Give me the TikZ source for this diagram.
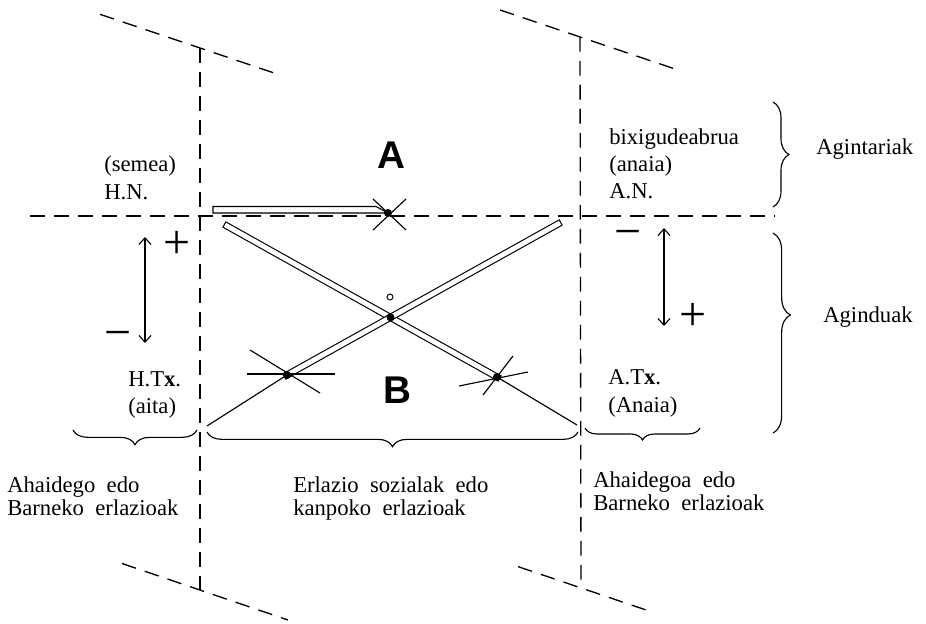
\documentclass[tikz,border=0pt]{standalone}
\usepackage{fontspec}
\setmainfont{Liberation Serif}
\newfontfamily\sansbold{Liberation Sans}
\usetikzlibrary{decorations.pathreplacing,arrows.meta}
\begin{document}
\begin{tikzpicture}[x=0.75pt,y=-0.75pt,
  dashln/.style={line width=1pt, dash pattern=on 11pt off 7pt},
  bar/.style={double=white, double distance=3.6pt, line width=0.85pt, line cap=rect},
  thinln/.style={line width=0.85pt},
  dotn/.style={circle, fill=black, inner sep=0pt, minimum size=6pt},
  lbl/.style={font=\fontsize{17}{20}\selectfont, inner sep=0pt, anchor=base west},
  big/.style={font=\sansbold\bfseries\fontsize{29}{30}\selectfont, inner sep=0pt},
  sgn/.style={font=\fontsize{36}{36}\selectfont, inner sep=0pt},
  brc/.style={decorate, decoration={brace, amplitude=#1}, line width=0.85pt},
  brc/.default=11pt,
  dblarr/.style={{Straight Barb[length=5pt,width=9pt]}-{Straight Barb[length=5pt,width=9pt]}, line width=0.85pt}
]
\useasboundingbox (0,0) rectangle (926,624);

% frame of dashed lines
\coordinate (LT) at (200,48);
\coordinate (LB) at (200,590);
\coordinate (RT) at (580,37);
\coordinate (RB) at (581,588);
\coordinate (LTa) at (100,14.3);
\coordinate (LTb) at (275,73.3);
\coordinate (RTa) at (500,10);
\coordinate (RTb) at (678,70);
\coordinate (LBa) at (122,563.5);
\coordinate (LBb) at (288,620);
\coordinate (RBa) at (518,566.6);
\coordinate (RBb) at (652,612);
\coordinate (Ha) at (30,216);
\coordinate (Hb) at (775,216);

\draw[dashln] (LTa) -- (LTb);
\draw[dashln] (RTa) -- (RTb);
\draw[dashln] (LBa) -- (LBb);
\draw[dashln] (RBa) -- (RBb);
\draw[dashln] (LT) -- (LB);
\draw[dashln] (RT) -- (RB);
\draw[dashln] (Ha) -- (Hb);

% key points
\coordinate (Pc) at (388,213);
\coordinate (Cc) at (390.5,317.4);
\coordinate (Lc) at (287,375);
\coordinate (Rc) at (497,377);
\coordinate (B1s) at (227,226);
\coordinate (B2s) at (558,224);
\coordinate (Lend) at (207,426);
\coordinate (Rend) at (577,425);

% horizontal tapering double bar
\draw[line width=0.85pt, line join=miter] (213,206.5) -- (376,206.5) -- (Pc) -- (213,213) -- cycle;

% crossing bars
\draw[bar] (B1s) -- (Rc);
\draw[bar] (B2s) -- (Lc);
\draw[thinln] (Rc) -- (Rend);
\draw[thinln] (Lc) -- (Lend);

% X marks
\coordinate (Xa1) at (373,199); \coordinate (Xa2) at (406,230);
\coordinate (Xb1) at (373,230); \coordinate (Xb2) at (406,199);
\draw[thinln] (Xa1) -- (Xa2);
\draw[thinln] (Xb1) -- (Xb2);
\coordinate (La1) at (250,350); \coordinate (La2) at (320,393);
\coordinate (Lb1) at (247,374); \coordinate (Lb2) at (335,374);
\draw[thinln] (La1) -- (La2);
\draw[thinln] (Lb1) -- (Lb2);
\coordinate (Ra1) at (459,386); \coordinate (Ra2) at (528,372);
\coordinate (Rb1) at (483,395); \coordinate (Rb2) at (513,356);
\draw[thinln] (Ra1) -- (Ra2);
\draw[thinln] (Rb1) -- (Rb2);

% dots on top
\node[dotn] (P) at (Pc) {};
\node[dotn] (C) at (Cc) {};
\node[dotn] (L) at (Lc) {};
\node[dotn] (R) at (Rc) {};

% small circle
\node[circle, draw, line width=0.7pt, inner sep=0pt, minimum size=4.5pt] (o) at (390,297) {};

% big letters
\node[big] (A) at (391,155) {A};
\node[big] (Bl) at (397,390) {B};

% vertical arrows and signs
\coordinate (la1) at (145,237); \coordinate (la2) at (145,343);
\draw[dblarr] (la1) -- (la2);
\coordinate (ra1) at (664,228); \coordinate (ra2) at (664,326);
\draw[dblarr] (ra1) -- (ra2);
\node[sgn] (plusL) at (177,245) {+};
\node[sgn] (minusL) at (118,340) {−};
\node[sgn] (minusR) at (628,239) {−};
\node[sgn] (plusR) at (693,317) {+};

% labels
\node[lbl] (semea) at (104,172) {(semea)};
\node[lbl] (HN) at (104,200) {H.N.};
\node[lbl] (bix) at (609,145) {bixigudeabrua};
\node[lbl] (anaia) at (609,172) {(anaia)};
\node[lbl] (AN) at (609,199) {A.N.};
\node[lbl] (HTx) at (128,387) {H.T\textbf{x}.};
\node[lbl] (aita) at (128,413) {(aita)};
\node[lbl] (ATx) at (608,385) {A.T\textbf{x}.};
\node[lbl] (Anaia) at (608,412) {(Anaia)};
\node[lbl] (Agint) at (816,155) {Agintariak};
\node[lbl] (Agind) at (823,323) {Aginduak};

\node[lbl] (ah1) at (7,492) {Ahaidego\ \ edo};
\node[lbl] (ah2) at (7,515) {Barneko\ \ erlazioak};
\node[lbl] (er1) at (293,492) {Erlazio\ \ sozialak\ \ edo};
\node[lbl] (er2) at (293,515) {kanpoko\ \ erlazioak};
\node[lbl] (ahr1) at (593,488) {Ahaidegoa\ \ edo};
\node[lbl] (ahr2) at (593,510) {Barneko\ \ erlazioak};

% braces
\coordinate (bt1) at (773,102); \coordinate (bt2) at (773,207);
\draw[brc=12pt] (bt1) -- (bt2);
\coordinate (bm1) at (773,233); \coordinate (bm2) at (773,433);
\draw[decorate, decoration={brace, amplitude=13pt, aspect=0.41}, line width=0.85pt] (bm1) -- (bm2);
\coordinate (bl1) at (197,430); \coordinate (bl2) at (73,430);
\draw[brc=11pt] (bl1) -- (bl2);
\coordinate (bc1) at (578,432); \coordinate (bc2) at (207,432);
\draw[brc=11pt] (bc1) -- (bc2);
\coordinate (br1) at (700,428); \coordinate (br2) at (585,428);
\draw[brc=9pt] (br1) -- (br2);
\end{tikzpicture}
\end{document}
